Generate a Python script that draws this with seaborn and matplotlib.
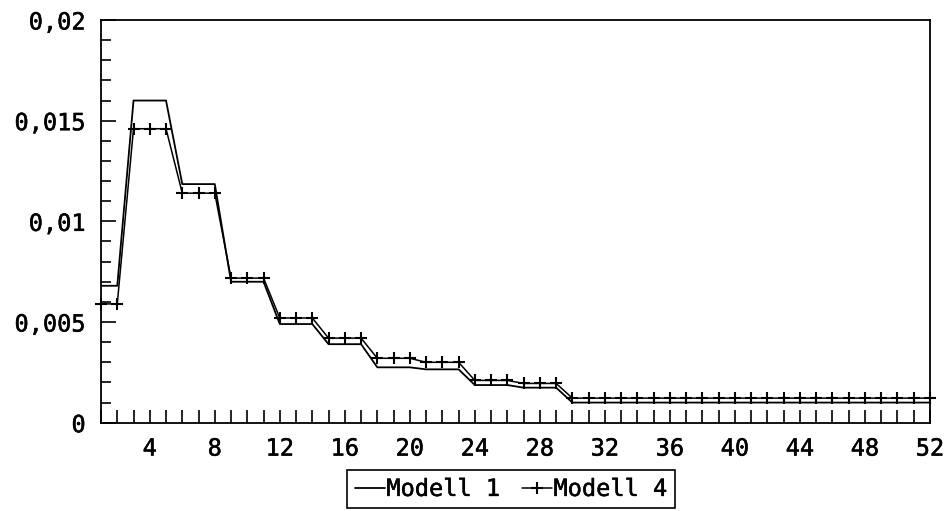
import matplotlib
matplotlib.use("Agg")
import matplotlib.pyplot as plt
import matplotlib.patheffects as pe
import numpy as np
import pandas as pd
import seaborn as sns
from matplotlib.ticker import MultipleLocator

# Weekly values for both models
weeks = list(range(1, 53))
modell_1 = ([0.0068] * 2 + [0.0160] * 3 + [0.01185] * 3 + [0.0070] * 3
            + [0.0049] * 3 + [0.0039] * 3 + [0.00275] * 3 + [0.00265] * 3
            + [0.00187] * 3 + [0.00174] * 3 + [0.0010] * 23)
modell_4 = ([0.0059] * 2 + [0.0146] * 3 + [0.0114] * 3 + [0.00718] * 3
            + [0.0052] * 3 + [0.0042] * 3 + [0.0032] * 3 + [0.0030] * 3
            + [0.0021] * 3 + [0.00195] * 3 + [0.00122] * 23)

x_ticks = list(range(4, 53, 4))
y_ticks = [0, 0.005, 0.01, 0.015, 0.02]
y_tick_labels = ["0", "0,005", "0,01", "0,015", "0,02"]
series_labels = ["Modell 1", "Modell 4"]

sns.set_theme(style="ticks")
plt.rcParams["font.family"] = ["DejaVu Sans Mono", "Liberation Mono"]

df = pd.DataFrame({"Woche": weeks, series_labels[0]: modell_1, series_labels[1]: modell_4})

fig = plt.figure(figsize=(9.5, 5.11), dpi=100)
ax = fig.add_axes([101 / 950, 1 - 422.7 / 511, (930 - 101) / 950, (422.7 - 20) / 511])

sns.lineplot(data=df, x="Woche", y=series_labels[0], ax=ax, color="black",
             lw=1.3, label=series_labels[0])
sns.lineplot(data=df, x="Woche", y=series_labels[1], ax=ax, color="black",
             lw=1.1, marker="+", markersize=9, markeredgewidth=1.5,
             markeredgecolor="black", label=series_labels[1], clip_on=False)

ax.set_xlim(1, 52)
ax.set_ylim(0, 0.02)
ax.set_xticks(x_ticks)
ax.set_xticks(weeks, minor=True)
ax.set_yticks(y_ticks)
ax.set_yticklabels(y_tick_labels)
ax.yaxis.set_minor_locator(MultipleLocator(0.001))
ax.set_xlabel("")
ax.set_ylabel("")

ax.tick_params(axis="both", which="both", direction="in", color="black",
               width=1.2, labelcolor="black")
ax.tick_params(axis="x", which="both", length=9.5, pad=10, labelsize=17)
ax.tick_params(axis="y", which="major", length=11, pad=11, labelsize=17)
ax.tick_params(axis="y", which="minor", length=7)
for s in ax.spines.values():
    s.set_visible(True)
    s.set_linewidth(1.3)
    s.set_color("black")

# slightly heavier glyph strokes for the labels
bold_stroke = [pe.withStroke(linewidth=0.35, foreground="black")]
for lbl in ax.get_xticklabels() + ax.get_yticklabels():
    lbl.set_path_effects(bold_stroke)

handles, labels = ax.get_legend_handles_labels()
ax.get_legend().remove()
leg = fig.legend(handles, labels, loc="lower center",
                 bbox_to_anchor=(511 / 950, 3 / 511), ncol=2, frameon=True,
                 fancybox=False, edgecolor="black", handlelength=1.3,
                 handletextpad=0.05, columnspacing=0.9, borderpad=0.3,
                 borderaxespad=0, prop={"size": 17})
leg.get_frame().set_linewidth(1.2)
leg.get_frame().set_alpha(1)
for t in leg.get_texts():
    t.set_color("black")
    t.set_path_effects(bold_stroke)

fig.savefig("out.png", dpi=100, facecolor="white")
